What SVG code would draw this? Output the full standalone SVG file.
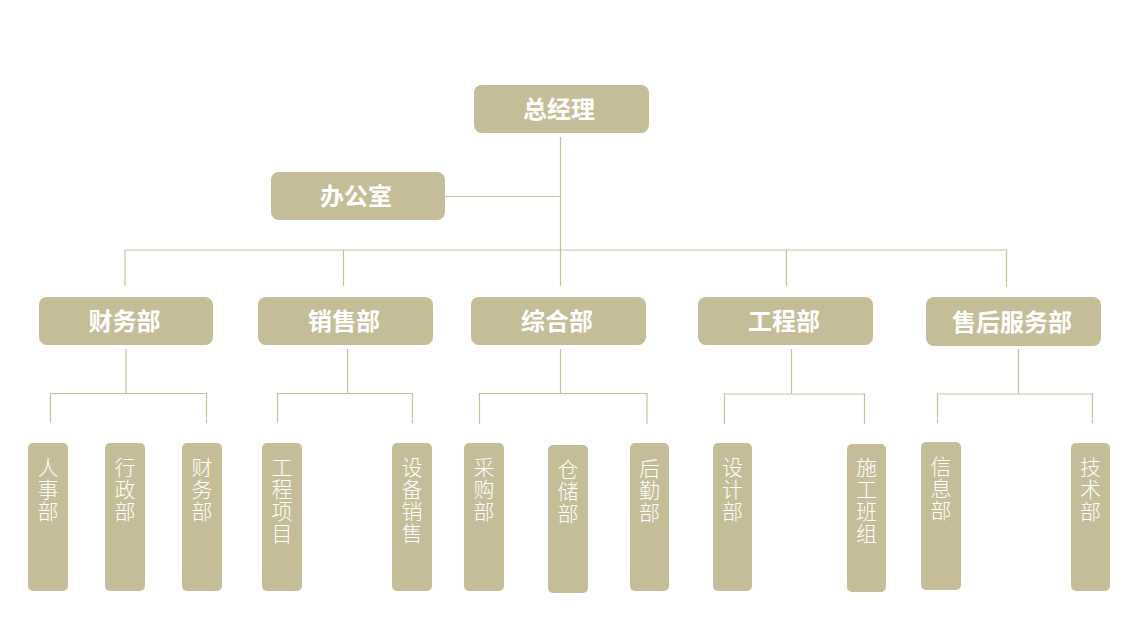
<svg xmlns="http://www.w3.org/2000/svg" width="1123" height="637" viewBox="0 0 1123 637">
<style>
.box{fill:#C5BD97;}
.ln{stroke:#C9BF98;stroke-width:1.2;fill:none;}
.t1{font-family:"Noto Sans CJK SC","Noto Sans",sans-serif;font-weight:700;font-size:24px;fill:#FFFFFF;text-anchor:middle;dominant-baseline:central;}
.t2{font-family:"Noto Sans CJK SC","Noto Sans",sans-serif;font-weight:300;font-size:21px;letter-spacing:1px;fill:#FFFFFF;writing-mode:vertical-rl;text-anchor:start;}
</style>
<rect width="1123" height="637" fill="#FFFFFF"/>
<g id="connectors">
<path class="ln" d="M560.5 137V250M445 196.5H560.5M125 250H1006.5M125 250V286M343.5 250V286M560.5 250V286M786.5 250V286M1006.5 250V286"/>
<path class="ln" d="M126 349V393.5M50.5 423V393.5H206.5V423"/>
<path class="ln" d="M347.5 349V393.5M277.5 423V393.5H412.5V423"/>
<path class="ln" d="M560.5 349V393.5M479.5 424V393.5H647V424"/>
<path class="ln" d="M791.5 349V394M724.5 424V394H864.5V424"/>
<path class="ln" d="M1018.5 349V394M937.5 423V394H1092.5V423"/>
</g>
<g id="n-gm"><rect class="box" x="474" y="85" width="175" height="48" rx="8"/><text class="t1" x="559" y="107.5">总经理</text></g>
<g id="n-office"><rect class="box" x="271" y="172" width="174" height="48" rx="8"/><text class="t1" x="356" y="194.5">办公室</text></g>
<g id="n-fin"><rect class="box" x="39" y="297" width="174" height="48" rx="8"/><text class="t1" x="124.5" y="319.5">财务部</text></g>
<g id="n-sales"><rect class="box" x="258" y="297" width="175" height="48" rx="8"/><text class="t1" x="344" y="319.5">销售部</text></g>
<g id="n-gen"><rect class="box" x="471" y="297" width="175" height="48" rx="8"/><text class="t1" x="557" y="319.5">综合部</text></g>
<g id="n-eng"><rect class="box" x="698" y="297" width="175" height="48" rx="8"/><text class="t1" x="784" y="319.5">工程部</text></g>
<g id="n-after"><rect class="box" x="926" y="297" width="175" height="49" rx="8"/><text class="t1" x="1012" y="320">售后服务部</text></g>

<g id="l-hr"><rect class="box" x="28" y="443" width="40" height="148" rx="5"/><text class="t2" x="48" y="457">人事部</text></g>
<g id="l-admin"><rect class="box" x="105" y="443" width="40" height="148" rx="5"/><text class="t2" x="125" y="457">行政部</text></g>
<g id="l-fin"><rect class="box" x="182" y="443" width="40" height="148" rx="5"/><text class="t2" x="202" y="457">财务部</text></g>
<g id="l-proj"><rect class="box" x="262" y="443" width="40" height="148" rx="5"/><text class="t2" x="282" y="457">工程项目</text></g>
<g id="l-equip"><rect class="box" x="392" y="443" width="40" height="148" rx="5"/><text class="t2" x="412" y="457">设备销售</text></g>
<g id="l-purch"><rect class="box" x="464" y="443" width="40" height="148" rx="5"/><text class="t2" x="484" y="457">采购部</text></g>
<g id="l-store"><rect class="box" x="548" y="445" width="40" height="148" rx="5"/><text class="t2" x="568" y="459">仓储部</text></g>
<g id="l-logi"><rect class="box" x="630" y="443" width="39" height="148" rx="5"/><text class="t2" x="649.5" y="458">后勤部</text></g>
<g id="l-design"><rect class="box" x="713" y="443" width="39" height="148" rx="5"/><text class="t2" x="732.5" y="457">设计部</text></g>
<g id="l-build"><rect class="box" x="847" y="444" width="39" height="148" rx="5"/><text class="t2" x="866.5" y="457">施工班组</text></g>
<g id="l-info"><rect class="box" x="921" y="442" width="40" height="148" rx="5"/><text class="t2" x="941" y="456">信息部</text></g>
<g id="l-tech"><rect class="box" x="1071" y="443" width="39" height="148" rx="5"/><text class="t2" x="1090.5" y="457">技术部</text></g>
</svg>
